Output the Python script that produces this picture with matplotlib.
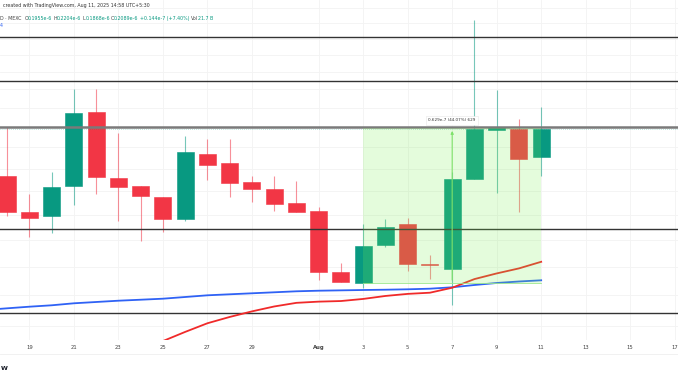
import matplotlib
matplotlib.use("Agg")
import matplotlib.pyplot as plt
from matplotlib.patches import Rectangle

# daily candles, Jul 18 .. Aug 11 (prices in 1e-6)
days = list(range(25))
opens = [0.1868, 0.1713, 0.1695, 0.1824, 0.2180, 0.1858, 0.1822, 0.1775, 0.1683, 0.1968,
         0.1927, 0.1839, 0.1810, 0.1748, 0.1717, 0.1482, 0.1443, 0.1580, 0.1663, 0.1506,
         0.1493, 0.1852, 0.2085, 0.2089, 0.1955]
highs = [0.2101, 0.1787, 0.1885, 0.2302, 0.2302, 0.2070, 0.1822, 0.1775, 0.2056, 0.2041,
         0.2042, 0.1867, 0.1867, 0.1844, 0.1734, 0.1514, 0.1663, 0.1683, 0.1688, 0.1543,
         0.1885, 0.2719, 0.2296, 0.2142, 0.2204]
lows = [0.1696, 0.1611, 0.1627, 0.1741, 0.1787, 0.1675, 0.1596, 0.1631, 0.1676, 0.1849,
        0.1776, 0.1755, 0.1717, 0.1713, 0.1453, 0.1445, 0.1425, 0.1574, 0.1486, 0.1455,
        0.1368, 0.1852, 0.1793, 0.1712, 0.1868]
closes = [0.1712, 0.1686, 0.1818, 0.2174, 0.1864, 0.1818, 0.1779, 0.1683, 0.1978, 0.1917,
          0.1837, 0.1808, 0.1745, 0.1713, 0.1480, 0.1445, 0.1576, 0.1651, 0.1509, 0.1505,
          0.1852, 0.2089, 0.2099, 0.1943, 0.2089]

# moving averages
ma_blue_days = list(range(-1, 25))
ma_blue = [0.13515, 0.13570, 0.13623, 0.13669, 0.13735, 0.13778, 0.13821, 0.13854, 0.13888,
           0.13945, 0.14002, 0.14036, 0.14070, 0.14104, 0.14138, 0.14158, 0.14170, 0.14182,
           0.14192, 0.14206, 0.14227, 0.14275, 0.14354, 0.14424, 0.14476, 0.14518]
ma_red_days = list(range(6, 25))
ma_red = [0.1221, 0.1254, 0.1282, 0.1309, 0.1329, 0.1347, 0.1363, 0.1375, 0.1379, 0.1381,
          0.1388, 0.1398, 0.1405, 0.1409, 0.1426, 0.1456, 0.1476, 0.1494, 0.1518]

# horizontal levels drawn on the chart
levels = [0.2609, 0.2347, 0.1643, 0.1341]
main_level = 0.2101
grid_prices = [0.13, 0.14, 0.15, 0.16, 0.17, 0.18, 0.19, 0.20, 0.21, 0.22, 0.23, 0.24,
               0.25, 0.26, 0.27, 0.28]

# price range tool
range_start, range_end = 16, 24
range_low, range_high = 0.1443, 0.2095
range_label = "0.629e-7 (44.07%) 629"

tick_pos = [1, 3, 5, 7, 9, 11, 14, 16, 18, 20, 22, 24, 26, 28, 30]
tick_labels = ["19", "21", "23", "25", "27", "29", "Aug", "3", "5", "7", "9", "11", "13", "15", "17"]

GREEN = "#089981"
RED = "#F23645"

fig = plt.figure(figsize=(6.78, 3.81), dpi=100)
ax = fig.add_axes([0, 41 / 381, 1, 340 / 381])
ax.set_yscale("log")
ax.set_xlim(-0.324, 30.15)
ax.set_ylim(0.12572, 0.2853)

for g in grid_prices:
    ax.axhline(g, color="#f3f3f3", lw=0.6, zorder=0)
for t in tick_pos:
    ax.axvline(t, color="#f3f3f3", lw=0.6, zorder=0)

# candles
for d, o, h, l, c in zip(days, opens, highs, lows, closes):
    col = GREEN if c >= o else RED
    ax.vlines(d, l, h, color=col, lw=0.8, alpha=0.55, zorder=2)
    bot = min(o, c)
    hgt = max(abs(c - o), 0.0004)
    ax.bar(d, hgt, bottom=bot, width=0.76, color=col, edgecolor=col, lw=0.4, zorder=3)

for lv in levels:
    ax.axhline(lv, color="#333333", lw=1.0, zorder=4)
ax.axhline(main_level, color="#7a7a7a", lw=1.8, zorder=4)
ax.axhline(closes[-1], color=GREEN, lw=0.5, ls=(0, (1, 2)), alpha=0.5, zorder=4)

ax.plot(ma_blue_days, ma_blue, color="#2f62f5", lw=1.3, zorder=5)
ax.plot(ma_red_days, ma_red, color="#f02a2a", lw=1.3, zorder=5)

# price range overlay
ax.add_patch(Rectangle((range_start, range_low), range_end - range_start, range_high - range_low,
                       facecolor="#78f050", alpha=0.2, edgecolor="none", zorder=6))
ax.plot([range_start, range_end], [range_low, range_low], color="#9be88a", lw=0.6, zorder=6)
ax.annotate("", xy=(20, range_high), xytext=(20, range_low),
            arrowprops=dict(arrowstyle="-|>", color="#7ee26a", lw=0.8, mutation_scale=4), zorder=7)
ax.text(20, 0.2136, range_label, fontsize=3, color="#333333", ha="center", va="center", zorder=8,
        bbox=dict(boxstyle="square,pad=0.6", fc="white", ec="#e6e6e6", lw=0.4))

ax.set_yticks([])
ax.minorticks_off()
ax.set_xticks(tick_pos, tick_labels)
ax.tick_params(axis="x", length=0, pad=3.3, labelsize=3.8, labelcolor="#444444")
ax.get_xticklabels()[6].set_fontweight("bold")
for s in ax.spines.values():
    s.set_visible(False)

fig.add_artist(plt.Line2D([0, 1], [1 - 354 / 381] * 2, color="#efefef", lw=0.6))

# header text
fig.text(3 / 678, 1 - 6 / 381, "created with TradingView.com, Aug 11, 2025 14:58 UTC+5:30",
         fontsize=3.4, color="#333333", va="center")

pieces = [("D · MEXC", "#444444", 3), ("O", "#444444", 0), ("0.1955e-6", GREEN, 1.2),
          ("H", "#444444", 0), ("0.2204e-6", GREEN, 1.2), ("L", "#444444", 0),
          ("0.1868e-6", GREEN, 1.2), ("C", "#444444", 0), ("0.2089e-6", GREEN, 1.5),
          ("+0.144e-7 (+7.40%)", GREEN, 1.5), ("Vol", "#444444", 0), ("21.7 B", GREEN, 0)]
renderer = fig.canvas.get_renderer()
xpix = 0.0
for txt, col, gap in pieces:
    t = fig.text(xpix / 678, 1 - 18.3 / 381, txt, fontsize=3.4, color=col, va="center")
    bb = t.get_window_extent(renderer)
    xpix = bb.x1 + gap
fig.text(0, 1 - 25.5 / 381, "4", fontsize=3.4, color="#2f62f5", va="center")
fig.text(1 / 678, 1 - 368 / 381, "W", fontsize=4.5, fontweight="bold", color="#131722", va="center")

fig.savefig("out.png", dpi=100)
